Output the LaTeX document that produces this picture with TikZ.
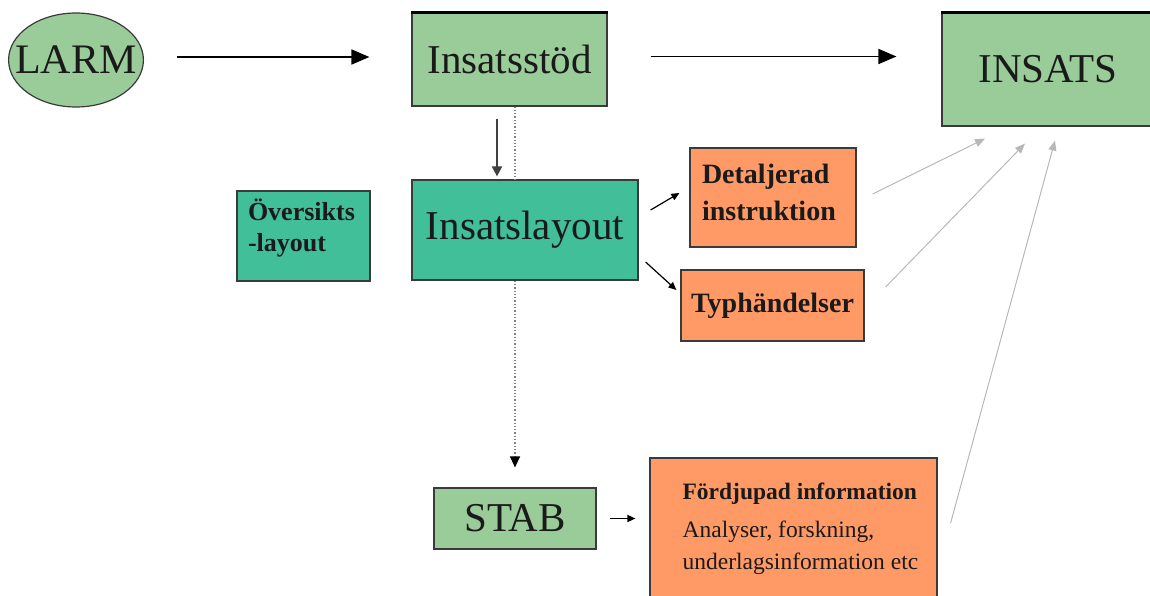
\documentclass[tikz,border=0pt]{standalone}
\usepackage{fontspec}
\setmainfont{Liberation Serif}
\usetikzlibrary{shapes.geometric,arrows.meta,calc}
\definecolor{lgreen}{HTML}{99CC99}
\definecolor{tealbox}{HTML}{40BF99}
\definecolor{orng}{HTML}{FF9966}
\definecolor{bord}{HTML}{3A3A3A}
\definecolor{garrow}{HTML}{B8B8B8}
\definecolor{txt}{HTML}{1A1A1A}
\begin{document}
\begin{tikzpicture}[x=1pt,y=-1pt,
  box/.style={draw=bord, line width=1.2pt, rectangle, inner sep=0pt, text=txt},
  greenbox/.style={box, fill=lgreen},
  tealb/.style={box, fill=tealbox},
  orangebox/.style={box, fill=orng},
  bigtext/.style={font=\fontsize{41}{46}\selectfont},
  midtext/.style={font=\fontsize{28}{37}\selectfont\bfseries},
  mainarrow/.style={-{Triangle[length=18pt,width=15pt]}, line width=1.8pt, draw=black},
  smallarrow/.style={-{Triangle[length=8pt,width=7pt]}, line width=1.2pt, draw=black},
  grayarrow/.style={-{Triangle[length=10pt,width=8pt]}, line width=1pt, draw=garrow},
  dotline/.style={dotted, line width=1.3pt, draw=gray},
  topedge/.style={line width=3pt, draw=black}
]
\useasboundingbox (0,0) rectangle (1150,596);

% nodes
\node[ellipse, draw=bord, line width=1.2pt, fill=lgreen, minimum width=133, minimum height=94, inner xsep=-13pt, inner ysep=0pt, text=txt, font=\fontsize{42}{46}\selectfont] (larm) at (76,60) {LARM};
\node[greenbox, minimum width=195, minimum height=93, bigtext] (stod) at (509.5,59.5) {Insatsstöd};
\node[greenbox, minimum width=212, minimum height=113, bigtext] (insats) at (1048,69.5) {INSATS};
\node[tealb, minimum width=226, minimum height=100, bigtext] (layout) at (525,230) {Insatslayout};
\node[tealb, minimum width=133, minimum height=90, text width=111, inner xsep=11, align=left, font=\fontsize{26}{31}\selectfont\bfseries] (oversikt) at (303.5,236) {Översikts\\-layout\\[-10pt]\mbox{}};
\node[orangebox, minimum width=166, minimum height=99, text width=142, inner xsep=12, align=left, midtext] (detalj) at (773,197.5) {Detaljerad\\instruktion\\[-27pt]\mbox{}};
\node[orangebox, minimum width=183, minimum height=71, midtext] (typ) at (772.5,305.5) {Typhändelser};
\node[greenbox, minimum width=162, minimum height=61, bigtext] (stab) at (515,518.5) {STAB};
\node[orangebox, minimum width=287, minimum height=142, label={[anchor=north west, inner sep=0pt, xshift=33pt, yshift=-25pt, align=left, text=txt, font=\fontsize{23.5}{32}\selectfont]north west:{{\bfseries Fördjupad information}\\[6pt]Analyser, forskning,\\underlagsinformation etc}}] (ford) at (793.5,529) {};

% thick top edges
\draw[topedge] (stod.north west) -- (stod.north east);
\draw[topedge] (insats.north west) -- (insats.north east);

% main arrows
\draw[mainarrow, shorten <=33pt, shorten >=42pt] ([yshift=3pt]larm.east) -- ([yshift=3pt]larm.east -| stod.west);
\draw[mainarrow, shorten <=43pt, shorten >=45pt] ([yshift=3pt]stod.east) -- ([yshift=3pt]stod.east -| insats.west);

% dotted connections
\draw[dotline] ([xshift=5.5pt]stod.south) -- ([xshift=5.5pt]stod.south |- layout.north);
\draw[dotline, -{Triangle[length=11pt,width=10pt,color=black]}, shorten >=20pt] (layout.south -| stab.north) -- (stab.north);

% stod -> layout
\draw[-{Triangle[length=10pt,width=10pt]}, line width=2pt, draw=black!75, shorten <=12pt, shorten >=3pt] ([xshift=-12.5pt]stod.south) -- ([xshift=-12.5pt]stod.south |- layout.north);

% layout -> orange boxes
\draw[smallarrow] ($(layout.east)+(12,-20)$) -- ($(detalj.west)+(-10,-4.5)$);
\draw[smallarrow] ($(layout.east)+(7,32)$) -- ($(typ.west)+(-4,-15.5)$);

% stab -> ford
\draw[smallarrow, line width=1.6pt, shorten <=13pt, shorten >=14pt] (stab.east) -- (stab.east -| ford.west);

% gray arrows to INSATS
\draw[grayarrow] ($(detalj.east)+(16,-3.5)$) -- ($(insats.south)+(-63,12)$);
\draw[grayarrow] ($(typ.east)+(21,-18.5)$) -- ($(insats.south)+(-23,17)$);
\draw[grayarrow] ($(ford.east)+(13,-6)$) -- ($(insats.south)+(7,14)$);
\end{tikzpicture}
\end{document}
